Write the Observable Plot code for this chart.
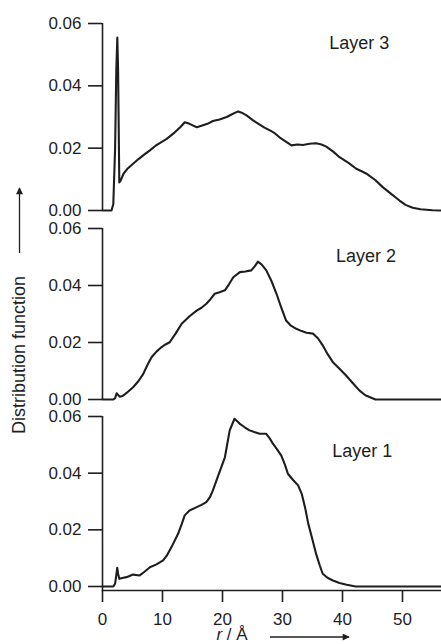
<!DOCTYPE html>
<html>
<head>
<meta charset="utf-8">
<script src="https://cdn.jsdelivr.net/npm/d3@7"></script>
<script src="https://cdn.jsdelivr.net/npm/@observablehq/plot@0.6"></script>
<style>
  body { margin: 0; background: #fff; }
  #fig { position: relative; width: 441px; height: 644px; overflow: hidden;
         font-family: "Liberation Sans", Arial, Helvetica, sans-serif; color: #1e1e1e; }
  #fig > svg { position: absolute; left: 0; overflow: visible; }
</style>
</head>
<body>
<div id="fig"></div>
<script>
// Radial distribution function per layer, r in Å
const layer3R = [0, 1.5, 1.8, 2.1, 2.3, 2.47, 2.6, 2.8, 3.0, 3.5, 4.2, 5.1, 6.0, 7.0, 7.9, 9.0, 10.7, 12.0, 13.0, 13.7, 14.5, 15.7, 16.5, 17.5, 18.4, 19.5, 20.7, 21.5, 22.6, 23.2, 24.0, 25.1, 26.0, 27.0, 27.9, 28.7, 29.5, 30.5, 31.5, 32.5, 33.4, 34.5, 35.6, 36.5, 37.3, 38.5, 39.5, 41.0, 42.3, 43.2, 44.0, 45.5, 46.7, 48.0, 49.5, 50.5, 51.7, 53.0, 55.0, 56.5];
const layer3V = [0, 0, 0.002, 0.02, 0.045, 0.0555, 0.045, 0.009, 0.0095, 0.0118, 0.0135, 0.015, 0.0165, 0.018, 0.0193, 0.021, 0.023, 0.025, 0.0268, 0.0283, 0.0278, 0.0267, 0.0272, 0.0278, 0.0287, 0.0292, 0.030, 0.0308, 0.0318, 0.0314, 0.0305, 0.0289, 0.0278, 0.0266, 0.0257, 0.0248, 0.0235, 0.0222, 0.0209, 0.0212, 0.0210, 0.0214, 0.0216, 0.0212, 0.0205, 0.0188, 0.0171, 0.0153, 0.0134, 0.0126, 0.0118, 0.0097, 0.0075, 0.0055, 0.0032, 0.0018, 0.0009, 0.0004, 0.0001, 0];

const layer2R = [0, 1.8, 2.1, 2.36, 2.6, 2.9, 3.3, 3.7, 4.3, 5.1, 6.0, 6.8, 7.5, 8.2, 9.0, 9.85, 10.5, 11.2, 12.2, 13.2, 14.5, 15.7, 16.5, 17.3, 18.0, 18.7, 19.5, 20.4, 21.1, 21.8, 22.9, 23.8, 24.8, 25.4, 25.9, 26.5, 27.3, 28.2, 29.0, 29.8, 30.6, 31.4, 32.3, 33.2, 34.0, 35.1, 35.9, 36.7, 37.5, 38.4, 39.5, 40.6, 41.7, 42.8, 43.8, 44.8, 45.5, 56.5];
const layer2V = [0, 0, 0.0005, 0.0022, 0.0016, 0.001, 0.0012, 0.0018, 0.0028, 0.0043, 0.0065, 0.009, 0.0122, 0.0149, 0.0168, 0.0184, 0.0193, 0.0201, 0.0232, 0.0266, 0.0292, 0.0312, 0.0322, 0.0336, 0.0352, 0.0371, 0.0376, 0.0383, 0.0405, 0.0429, 0.0447, 0.0449, 0.0453, 0.0468, 0.0484, 0.0474, 0.0453, 0.0414, 0.0371, 0.0322, 0.0277, 0.0259, 0.0248, 0.0240, 0.0234, 0.0231, 0.0215, 0.019, 0.016, 0.0131, 0.0108, 0.0084, 0.0058, 0.0032, 0.0015, 0.0006, 0, 0];

const layer1R = [0, 1.8, 2.1, 2.3, 2.46, 2.6, 2.8, 3.3, 4.0, 5.1, 6.2, 7.0, 7.9, 9.0, 10.1, 10.8, 11.5, 12.6, 13.2, 13.7, 14.5, 15.7, 16.5, 17.3, 17.9, 18.4, 19.3, 20.4, 21.2, 22.0, 22.5, 22.9, 23.7, 24.5, 25.3, 26.2, 27.3, 27.9, 28.4, 29.1, 29.8, 30.4, 30.9, 31.8, 32.6, 33.2, 33.8, 34.3, 35.0, 35.6, 36.2, 36.7, 37.5, 38.4, 39.5, 40.7, 42.2, 56.5];
const layer1V = [0, 0, 0.001, 0.004, 0.0066, 0.0045, 0.0027, 0.003, 0.0033, 0.0042, 0.0039, 0.0052, 0.0068, 0.0078, 0.0092, 0.0112, 0.0139, 0.0186, 0.022, 0.0251, 0.0268, 0.028, 0.0288, 0.0298, 0.0315, 0.0339, 0.0392, 0.0456, 0.0551, 0.0592, 0.0582, 0.0574, 0.0562, 0.0551, 0.0545, 0.0539, 0.0539, 0.0522, 0.0504, 0.0484, 0.0462, 0.043, 0.0398, 0.0375, 0.0357, 0.0327, 0.0275, 0.0221, 0.0165, 0.0115, 0.0075, 0.0045, 0.0031, 0.0021, 0.0012, 0.0006, 0, 0];

const layerNames = ["Layer 3", "Layer 2", "Layer 1"];
const yTicks = [0, 0.02, 0.04, 0.06];
const xTicks = [0, 10, 20, 30, 40, 50];
const xTitle = "r / Å";
const yTitle = "Distribution function";

const ink = "#1e1e1e";
const font = "'Liberation Sans', Arial, Helvetica, sans-serif";
const fig = document.getElementById("fig");

// Panel layout: svg top, svg height, y pixel range inside the svg, label anchor (data units)
const panels = [
  { r: layer3R, v: layer3V, name: layerNames[0], top: 0,   height: 216, yRange: [210, 23], mt: 23, mb: 6,  lx: 42.8, ly: 0.0536, xAxis: false },
  { r: layer2R, v: layer2V, name: layerNames[1], top: 216, height: 186, yRange: [183, 12], mt: 12, mb: 3,  lx: 43.9, ly: 0.0502, xAxis: false },
  { r: layer1R, v: layer1V, name: layerNames[2], top: 402, height: 242, yRange: [184, 14], mt: 14, mb: 54, lx: 43.3, ly: 0.0476, xAxis: true }
];

for (const p of panels) {
  const data = p.r.map((r, i) => ({ r, v: p.v[i] }));
  const marks = [
    Plot.ruleX([0], { stroke: ink, strokeWidth: 1.6 }),
    Plot.axisY({ ticks: yTicks, tickFormat: d3.format(".2f"), tickSize: 14, tickPadding: 7,
                 stroke: ink, strokeWidth: 1.6, fill: ink, fontSize: 17, label: null }),
    Plot.line(data, { x: "r", y: "v", stroke: ink, strokeWidth: 2.1, strokeLinejoin: "round" }),
    Plot.text([p.name], { x: () => p.lx, y: () => p.ly, text: d => d, fill: ink, fontSize: 18,
                          textAnchor: "middle", lineAnchor: "middle" })
  ];
  if (p.xAxis) {
    marks.push(Plot.frame({ anchor: "bottom", stroke: ink, strokeWidth: 1.6 }));
    marks.push(Plot.axisX({ ticks: xTicks, tickSize: 12, tickPadding: 10, stroke: ink,
                            strokeWidth: 1.6, fill: ink, fontSize: 17, label: null }));
  }
  const svg = Plot.plot({
    width: 441,
    height: p.height,
    marginLeft: 102,
    marginRight: 0,
    marginTop: p.mt,
    marginBottom: p.mb,
    style: { fontFamily: font, fontSize: "17px", color: ink, background: "transparent", overflow: "visible" },
    x: { domain: [0, 56.5], axis: null },
    y: { domain: [0, 0.06], range: p.yRange, axis: null },
    marks
  });
  svg.style.top = p.top + "px";
  fig.appendChild(svg);
}

// Axis titles with their direction arrows
const over = d3.select(fig).append("svg")
  .attr("width", 441).attr("height", 644)
  .style("top", "0px").style("pointer-events", "none");

over.append("defs").append("marker")
  .attr("id", "head").attr("viewBox", "0 0 10 10").attr("refX", 9).attr("refY", 5)
  .attr("markerWidth", 9).attr("markerHeight", 7).attr("markerUnits", "userSpaceOnUse")
  .attr("orient", "auto")
  .append("path").attr("d", "M0,0 L10,5 L0,10 Z").attr("fill", ink);

over.append("text")
  .attr("transform", "translate(25,355) rotate(-90)")
  .attr("text-anchor", "middle")
  .attr("font-family", font).attr("font-size", 18).attr("fill", ink)
  .text(yTitle);

over.append("line")
  .attr("x1", 19.5).attr("y1", 253).attr("x2", 19.5).attr("y2", 188)
  .attr("stroke", ink).attr("stroke-width", 1.3).attr("marker-end", "url(#head)");

const xt = over.append("text")
  .attr("x", 232).attr("y", 640).attr("text-anchor", "middle")
  .attr("font-family", font).attr("font-size", 17).attr("fill", ink);
xt.append("tspan").attr("font-style", "italic").text(xTitle.split(" ")[0]);
xt.append("tspan").text(" " + xTitle.split(" ").slice(1).join(" "));

over.append("line")
  .attr("x1", 270).attr("y1", 637).attr("x2", 349).attr("y2", 637)
  .attr("stroke", ink).attr("stroke-width", 1.3).attr("marker-end", "url(#head)");
</script>
</body>
</html>
